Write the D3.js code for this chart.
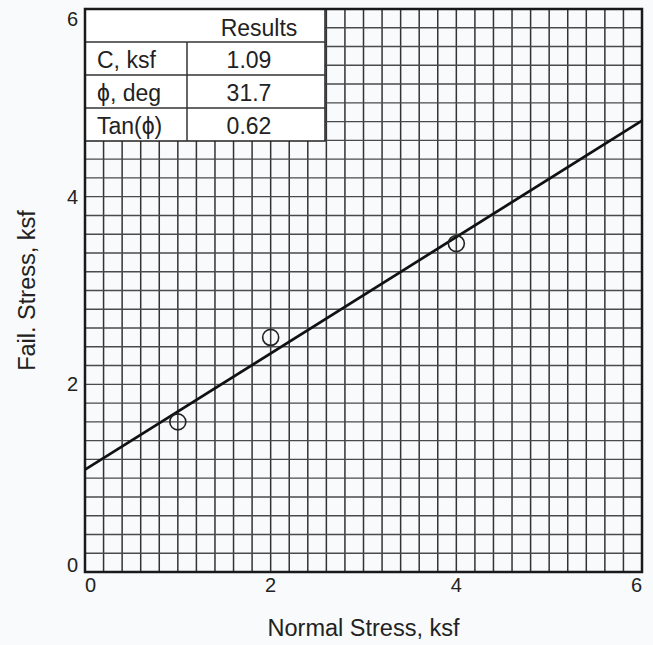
<!DOCTYPE html>
<meta charset="utf-8">
<title>Failure Envelope</title>
<script src="https://d3js.org/d3.v7.min.js"></script>
<style>
  body { margin: 0; background: #f8fafb; }
  text { font-family: "Liberation Sans", Arial, sans-serif; fill: #222; }
</style>
<body>
<script>

var w = 653
var h = 645

// test points (normal stress vs failure stress, ksf)
var normalStress = [1, 2, 4]
var failStress = [1.6, 2.5, 3.5]

// fitted envelope results
var cohesion = 1.09
var tanPhi = 0.62
var resultLabels = ["C, ksf", "\u03d5, deg", "Tan(\u03d5)"]
var resultValues = ["1.09", "31.7", "0.62"]

var xTicks = [0, 2, 4, 6]
var yTicks = [0, 2, 4, 6]

var margin = {left: 85, right: 11, top: 9, bottom: 73}

var svg = d3.select("body")
  .append("svg")
  .attr("width", w)
  .attr("height", h);

var x = d3.scaleLinear().domain([0, 6]).range([margin.left, w - margin.right]);
var y = d3.scaleLinear().domain([0, 6]).range([h - margin.bottom, margin.top]);

// grid every 0.2 ksf
var grid = d3.range(0, 31).map(function(i) { return i * 0.2; });

svg.append("g")
  .selectAll("line")
  .data(grid)
  .enter()
  .append("line")
    .attr("x1", function(d) { return x(d); })
    .attr("x2", function(d) { return x(d); })
    .attr("y1", y(0))
    .attr("y2", y(6))
    .attr("stroke", "#333")
    .attr("stroke-width", 1.5);

svg.append("g")
  .selectAll("line")
  .data(grid)
  .enter()
  .append("line")
    .attr("x1", x(0))
    .attr("x2", x(6))
    .attr("y1", function(d) { return y(d); })
    .attr("y2", function(d) { return y(d); })
    .attr("stroke", "#4a4a4a")
    .attr("stroke-width", 1.4);

// results table (covers the grid)
var tableW = 240, rowH = 33, col1 = 102;
var table = svg.append("g").attr("transform", "translate(" + x(0) + "," + y(6) + ")");

table.append("rect")
  .attr("width", tableW)
  .attr("height", rowH * 4)
  .attr("fill", "white")
  .attr("stroke", "#222")
  .attr("stroke-width", 1.5);

table.selectAll("line.row")
  .data([1, 2, 3])
  .enter()
  .append("line")
    .attr("x1", 0).attr("x2", tableW)
    .attr("y1", function(d) { return d * rowH; })
    .attr("y2", function(d) { return d * rowH; })
    .attr("stroke", "#333")
    .attr("stroke-width", 1.5);

table.append("line")
  .attr("x1", col1).attr("x2", col1)
  .attr("y1", rowH).attr("y2", rowH * 4)
  .attr("stroke", "#333")
  .attr("stroke-width", 1.5);

table.append("text")
  .attr("x", 174)
  .attr("y", 27)
  .attr("text-anchor", "middle")
  .style("font-size", "23px")
  .text("Results");

table.selectAll("text.lab")
  .data(resultLabels)
  .enter()
  .append("text")
    .attr("x", 12)
    .attr("y", function(d, i) { return (i + 1) * rowH + 26; })
    .style("font-size", "23px")
    .text(function(d) { return d; });

table.selectAll("text.val")
  .data(resultValues)
  .enter()
  .append("text")
    .attr("x", 164)
    .attr("y", function(d, i) { return (i + 1) * rowH + 26; })
    .attr("text-anchor", "middle")
    .style("font-size", "23px")
    .text(function(d) { return d; });

// plot border
svg.append("rect")
  .attr("x", x(0))
  .attr("y", y(6))
  .attr("width", x(6) - x(0))
  .attr("height", y(0) - y(6))
  .attr("fill", "none")
  .attr("stroke", "#1a1a1a")
  .attr("stroke-width", 2.5);

// failure envelope
svg.append("line")
  .attr("x1", x(0))
  .attr("y1", y(cohesion))
  .attr("x2", x(6))
  .attr("y2", y(cohesion + tanPhi * 6))
  .attr("stroke", "#111")
  .attr("stroke-width", 2.7);

svg.append("g")
  .selectAll("circle")
  .data(normalStress)
  .enter()
  .append("circle")
    .attr("cx", function(d) { return x(d); })
    .attr("cy", function(d, i) { return y(failStress[i]); })
    .attr("r", 8)
    .attr("fill", "none")
    .attr("stroke", "#222")
    .attr("stroke-width", 1.6);

// tick labels
svg.append("g")
  .selectAll("text")
  .data(xTicks)
  .enter()
  .append("text")
    .attr("x", function(d) { return x(d); })
    .attr("y", y(0) + 20)
    .attr("text-anchor", function(d) { return d == 0 ? "start" : d == 6 ? "end" : "middle"; })
    .style("font-size", "20px")
    .text(function(d) { return d; });

svg.append("g")
  .selectAll("text")
  .data(yTicks)
  .enter()
  .append("text")
    .attr("x", x(0) - 7)
    .attr("y", function(d) { return d == 0 ? y(d) : d == 6 ? y(d) + 17 : y(d) + 7; })
    .attr("text-anchor", "end")
    .style("font-size", "20px")
    .text(function(d) { return d; });

// axis titles
svg.append("text")
  .attr("x", (x(0) + x(6)) / 2)
  .attr("y", 636)
  .attr("text-anchor", "middle")
  .style("font-size", "23.5px")
  .text("Normal Stress, ksf");

svg.append("text")
  .attr("transform", "translate(35," + (y(0) + y(6)) / 2 + ") rotate(-90)")
  .attr("text-anchor", "middle")
  .style("font-size", "23.5px")
  .text("Fail. Stress, ksf");

</script>
</body>
